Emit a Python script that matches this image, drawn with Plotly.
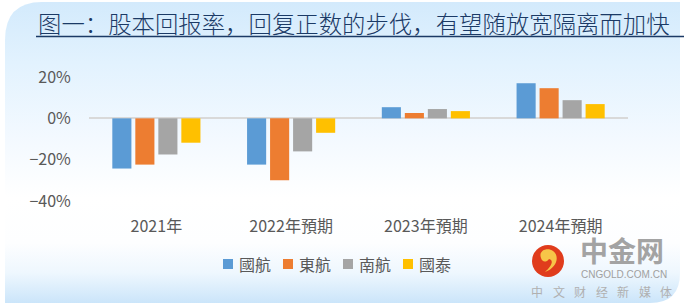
import base64
import plotly.graph_objects as go

categories = ["2021年", "2022年預期", "2023年預期", "2024年預期"]
series_names = ["國航", "東航", "南航", "國泰"]
guohang = [-0.243, -0.224, 0.054, 0.170]
donghang = [-0.224, -0.300, 0.026, 0.146]
nanhang = [-0.175, -0.160, 0.045, 0.088]
guotai = [-0.118, -0.070, 0.035, 0.069]
series_values = [guohang, donghang, nanhang, guotai]
colors = ["#5b9bd5", "#ed7d31", "#a5a5a5", "#ffc000"]
ytick_vals = [-0.4, -0.2, 0.0, 0.2]
title_text = "图一：股本回报率，回复正数的步伐，有望随放宽隔离而加快"
brand = "中金网"
brand_url = "CNGOLD.COM.CN"
brand_slogan = ["中", "文", "财", "经", "新", "媒", "体"]

W, H = 684, 307
L, R, T, B = 89, 56, 76, 105
PW, PH = W - L - R, H - T - B


def px(x):
    return (x - L) / PW


def py(y):
    return (H - B - y) / PH


fig = go.Figure()
for name, vals, col in zip(series_names, series_values, colors):
    fig.add_trace(go.Bar(x=categories, y=vals, name=name, marker_color=col,
                         marker_line_width=0, showlegend=False))

# background panel as svg gradient
svg = f'''<svg xmlns="http://www.w3.org/2000/svg" width="{W}" height="{H}" viewBox="0 0 {W} {H}">
<defs><linearGradient id="g" x1="0" y1="0" x2="0" y2="1">
<stop offset="0" stop-color="#d3eafc"/>
<stop offset="0.2" stop-color="#e2f2fe"/>
<stop offset="0.45" stop-color="#f3f9ff"/>
<stop offset="0.65" stop-color="#ffffff"/>
<stop offset="0.8" stop-color="#fdfeff"/>
<stop offset="0.9" stop-color="#eef7fe"/>
<stop offset="1" stop-color="#cbe5fa"/>
</linearGradient></defs>
<path d="M5 40 Q5 2 42 2 L680 2 L680 273 Q680 303 650 303 L5 303 Z" fill="url(#g)"/>
</svg>'''
src = "data:image/svg+xml;base64," + base64.b64encode(svg.encode()).decode()

fig.update_layout(
    width=W, height=H,
    margin=dict(l=L, r=R, t=T, b=B, pad=0),
    paper_bgcolor="white",
    plot_bgcolor="rgba(0,0,0,0)",
    barmode="group",
    bargap=0.317,
    bargroupgap=0.17,
    font=dict(family="Noto Sans CJK TC, Noto Sans CJK SC, sans-serif", color="#595959", size=16),
    images=[dict(source=src, xref="paper", yref="paper", x=px(0), y=py(0),
                 sizex=W / PW, sizey=H / PH, sizing="stretch",
                 xanchor="left", yanchor="top", layer="below")],
    xaxis=dict(showgrid=False, showline=False, zeroline=False,
               ticks="outside", ticklen=10, tickcolor="rgba(0,0,0,0)",
               tickfont=dict(size=16, color="#595959")),
    yaxis=dict(range=[-0.405, 0.205], tickvals=ytick_vals, tickformat=".0%",
               showgrid=False, showline=False,
               zeroline=True, zerolinecolor="#d9d9d9", zerolinewidth=1.5,
               ticks="outside", ticklen=14, tickcolor="rgba(0,0,0,0)",
               tickfont=dict(size=16, color="#595959")),
    showlegend=False,
)

annotations = [
    dict(text=title_text, xref="paper", yref="paper", x=px(36), y=py(23.5),
         xanchor="left", yanchor="middle", showarrow=False,
         font=dict(size=23.4, color="#1b3a66", family="Noto Sans CJK SC", weight=300)),
    dict(text=brand, xref="paper", yref="paper", x=px(622), y=py(250),
         xanchor="center", yanchor="middle", showarrow=False,
         font=dict(size=28, color="#a3a3a3", family="Noto Sans CJK SC", weight="bold")),
    dict(text=brand_url, xref="paper", yref="paper", x=px(624), y=py(274),
         xanchor="center", yanchor="middle", showarrow=False,
         font=dict(size=10, color="#a0a0a0", family="Liberation Sans")),
]
for i, ch in enumerate(brand_slogan):
    annotations.append(dict(text=ch, xref="paper", yref="paper", x=px(537 + i * 21.5), y=py(291),
                            xanchor="center", yanchor="middle", showarrow=False,
                            font=dict(size=12, color="#b0b0b0", family="Noto Sans CJK SC")))

shapes = [
    dict(type="line", xref="paper", yref="paper", x0=px(36), x1=px(684), y0=py(36.5), y1=py(36.5),
         line=dict(color="#1b3a66", width=1.5)),
    dict(type="circle", xref="paper", yref="paper", x0=px(532), x1=px(564), y0=py(277), y1=py(245),
         fillcolor="#e03c1c", line=dict(width=0)),
    dict(type="path", xref="paper", yref="paper",
         path=(f"M {px(541)} {py(258)} C {px(538)} {py(250)} {px(548)} {py(247)} {px(553)} {py(251)} "
               f"C {px(560)} {py(256)} {px(557)} {py(268)} {px(545)} {py(272)} "
               f"C {px(552)} {py(266)} {px(554)} {py(260)} {px(549)} {py(259)} "
               f"C {px(546)} {py(263)} {px(542)} {py(262)} {px(541)} {py(258)} Z"),
         fillcolor="#f7c548", line=dict(width=0)),
]

# manual legend (square swatch + label per series)
leg_x0, leg_step, leg_y = 223, 60, 264
for i, (name, col) in enumerate(zip(series_names, colors)):
    sx = leg_x0 + i * leg_step
    shapes.append(dict(type="rect", xref="paper", yref="paper",
                       x0=px(sx), x1=px(sx + 10), y0=py(leg_y + 5), y1=py(leg_y - 5),
                       fillcolor=col, line=dict(width=0)))
    annotations.append(dict(text=name, xref="paper", yref="paper", x=px(sx + 14), y=py(leg_y),
                            xanchor="left", yanchor="middle", showarrow=False,
                            font=dict(size=16, color="#595959")))

fig.update_layout(annotations=annotations, shapes=shapes)

fig.write_html("out.html")
